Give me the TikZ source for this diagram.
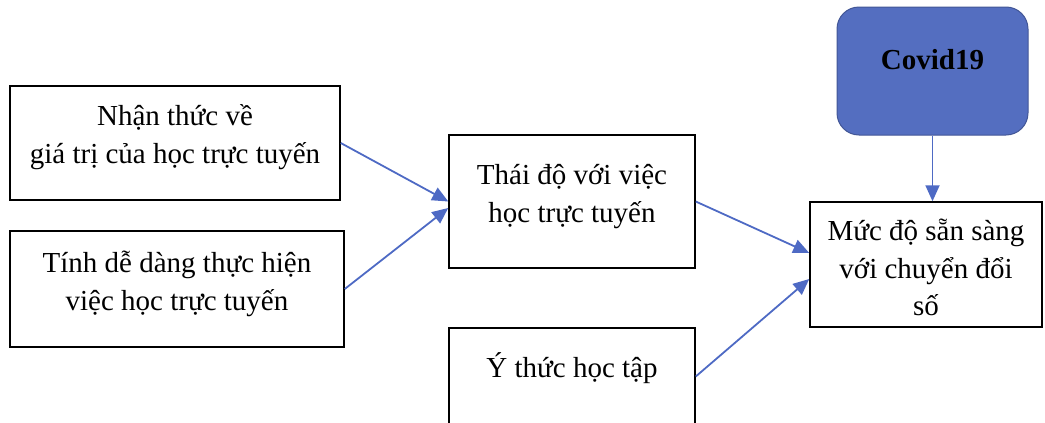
\documentclass[tikz,border=0pt]{standalone}
\usepackage{fontspec}
\setmainfont{Liberation Serif}
\usetikzlibrary{arrows.meta,calc}

\definecolor{covidfill}{RGB}{84,110,192}
\definecolor{covidline}{RGB}{66,86,150}
\definecolor{linkblue}{RGB}{78,106,196}

\tikzset{
  factor/.style={draw=black, line width=1.5pt, rectangle, inner sep=0pt},
  hazard/.style={draw=covidline, fill=covidfill, line width=1pt,
    rounded corners=22pt, inner sep=0pt},
  caption/.style={align=center, inner sep=0pt,
    font=\fontsize{29}{37.5}\selectfont},
  link/.style={draw=linkblue, line width=1.8pt,
    -{Triangle[length=16pt,width=14pt]}},
}

\begin{document}
\begin{tikzpicture}[x=1pt,y=-1pt]
  \useasboundingbox (0,0) rectangle (1045,423);

  % input factors on the left
  \node[factor, minimum width=330pt, minimum height=114pt] (aware) at (175,143) {};
  \node[caption] (awaretext) at ([yshift=6pt]aware.center)
    {Nhận thức về\\giá trị của học trực tuyến};
  \node[factor, minimum width=334pt, minimum height=116pt] (ease) at (177,289) {};
  \node[caption] (easetext) at ([yshift=5pt]ease.center)
    {Tính dễ dàng thực hiện\\việc học trực tuyến};

  % mediating attitude and study awareness
  \node[factor, minimum width=246pt, minimum height=133pt] (attitude) at (572,201.5) {};
  \node[caption] (attitudetext) at ([yshift=5pt]attitude.center)
    {Thái độ với việc\\học trực tuyến};
  \node[factor, minimum width=246pt, minimum height=97pt] (study) at (572,376.5) {};
  \node[caption] (studytext) at ([yshift=8pt]study.center) {Ý thức học tập};

  % outcome and external context
  \node[factor, minimum width=232pt, minimum height=125pt] (ready) at (926,264.5) {};
  \node[caption] (readytext) at ([yshift=-3pt]ready.center)
    {Mức độ sẵn sàng\\với chuyển đổi\\số};
  \node[hazard, minimum width=191pt, minimum height=128pt] (covid) at (932.5,71) {};
  \node[caption, font=\fontsize{29}{37.5}\selectfont\bfseries] (covidtext)
    at ([yshift=11pt]covid.center) {Covid19};

  % relations
  \draw[link] (aware.east) -- (attitude.west);
  \draw[link] (ease.east) -- ([yshift=-6.5pt]attitude.west);
  \draw[link] (attitude.east) -- ([yshift=11.5pt]ready.west);
  \draw[link] (study.east) -- ([yshift=-14.5pt]ready.west);
  \draw[link] (covid.south) -- (covid.south |- ready.north);
\end{tikzpicture}
\end{document}
